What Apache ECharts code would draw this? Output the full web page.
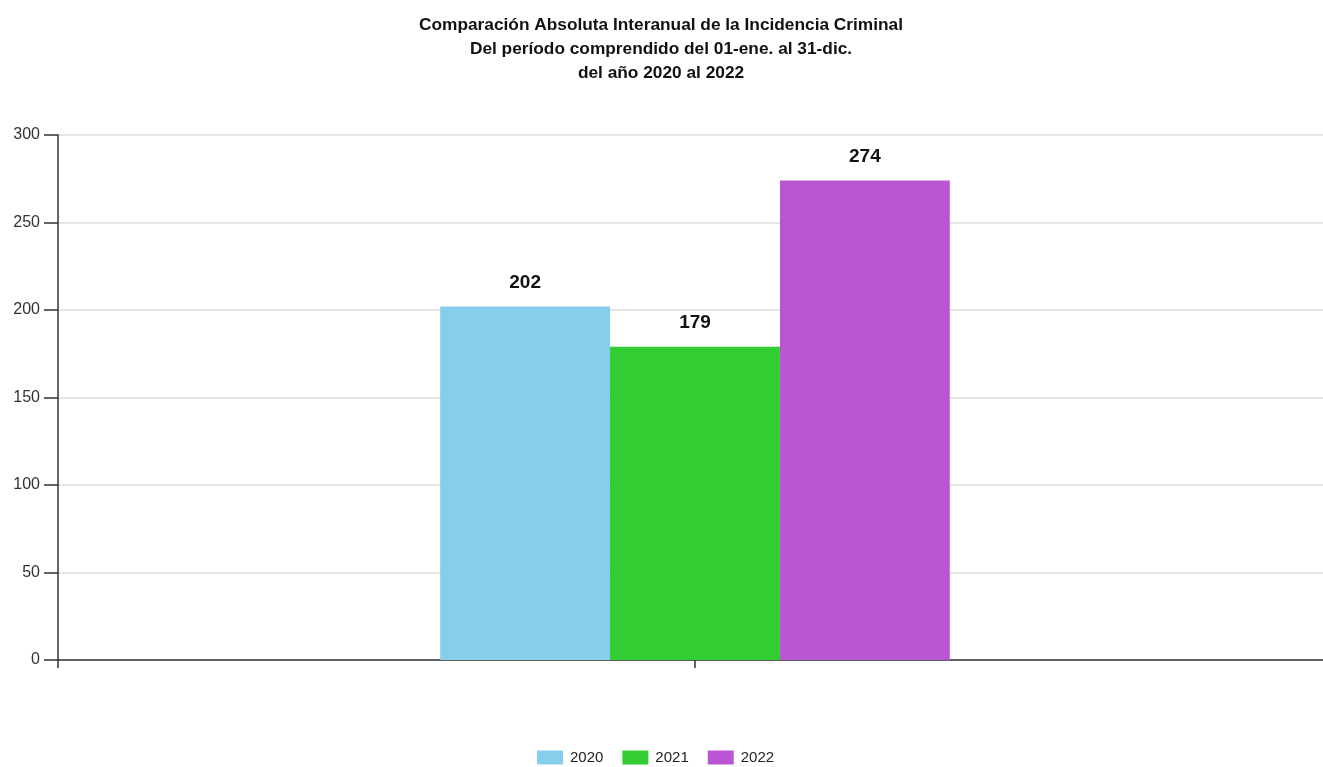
<!DOCTYPE html>
<html>
<head>
<meta charset="utf-8">
<script src="https://cdn.jsdelivr.net/npm/echarts@6/dist/echarts.min.js"></script>
<style>
html,body{margin:0;padding:0;background:#fff;overflow:hidden;}
/* the canvas runs a little past the right edge of the window */
#chart{width:1332px;height:767px;}
</style>
</head>
<body>
<div id="chart"></div>
<script>
// Yearly totals of reported incidents
const titleLines = [
  'Comparación Absoluta Interanual de la Incidencia Criminal',
  'Del período comprendido del 01-ene. al 31-dic.',
  'del año 2020 al 2022'
];
const categories = [''];
const years = ['2020', '2021', '2022'];
const values2020 = [202];
const values2021 = [179];
const values2022 = [274];
const yearColors = ['#87CEEB', '#32CD32', '#BA55D3'];
const yTicks = { min: 0, max: 300, interval: 50 };

const FONT = "'Liberation Sans Narrow', 'Arial Narrow', 'Liberation Sans', sans-serif";
const seriesValues = [values2020, values2021, values2022];

const chart = echarts.init(document.getElementById('chart'));
chart.setOption({
  animation: false,
  color: yearColors,
  title: {
    text: titleLines.join('\n'),
    left: 656,
    top: 8,
    textAlign: 'center',
    textStyle: {
      fontFamily: FONT,
      fontSize: 17.3,
      fontWeight: 'bold',
      color: '#111',
      lineHeight: 24
    }
  },
  legend: {
    bottom: -3,
    left: 532,
    itemWidth: 26,
    itemHeight: 14,
    itemGap: 19,
    icon: 'rect',
    textStyle: { fontFamily: FONT, fontSize: 15, color: '#222', padding: [0, 0, 0, 2] },
    data: years
  },
  grid: { left: 58, right: 0, top: 135, bottom: 107 },
  xAxis: [
    {
      type: 'category',
      data: categories,
      axisLine: { lineStyle: { color: '#333', width: 1.5 } },
      axisTick: { show: true, alignWithLabel: true, length: 8, lineStyle: { color: '#333', width: 1.5 } },
      axisLabel: { show: false }
    },
    {
      type: 'category',
      data: categories,
      position: 'bottom',
      axisLine: { show: false },
      axisTick: { show: true, alignWithLabel: false, length: 8, lineStyle: { color: '#333', width: 1.5 } },
      axisLabel: { show: false }
    }
  ],
  yAxis: {
    type: 'value',
    min: yTicks.min,
    max: yTicks.max,
    interval: yTicks.interval,
    axisLine: { show: true, lineStyle: { color: '#333', width: 1.5 } },
    axisTick: { show: true, length: 14, lineStyle: { color: '#333', width: 1.5 } },
    axisLabel: { fontFamily: FONT, fontSize: 16, color: '#333', margin: 18 },
    splitLine: { lineStyle: { color: '#ddd', width: 1.5 } }
  },
  series: years.map((y, i) => ({
    name: y,
    type: 'bar',
    xAxisIndex: 0,
    data: seriesValues[i],
    barGap: '0%',
    barCategoryGap: '60%',
    itemStyle: { color: yearColors[i] },
    label: {
      show: true,
      position: 'top',
      distance: 14,
      fontFamily: FONT,
      fontSize: 19,
      fontWeight: 'bold',
      color: '#111'
    }
  }))
});
</script>
</body>
</html>
